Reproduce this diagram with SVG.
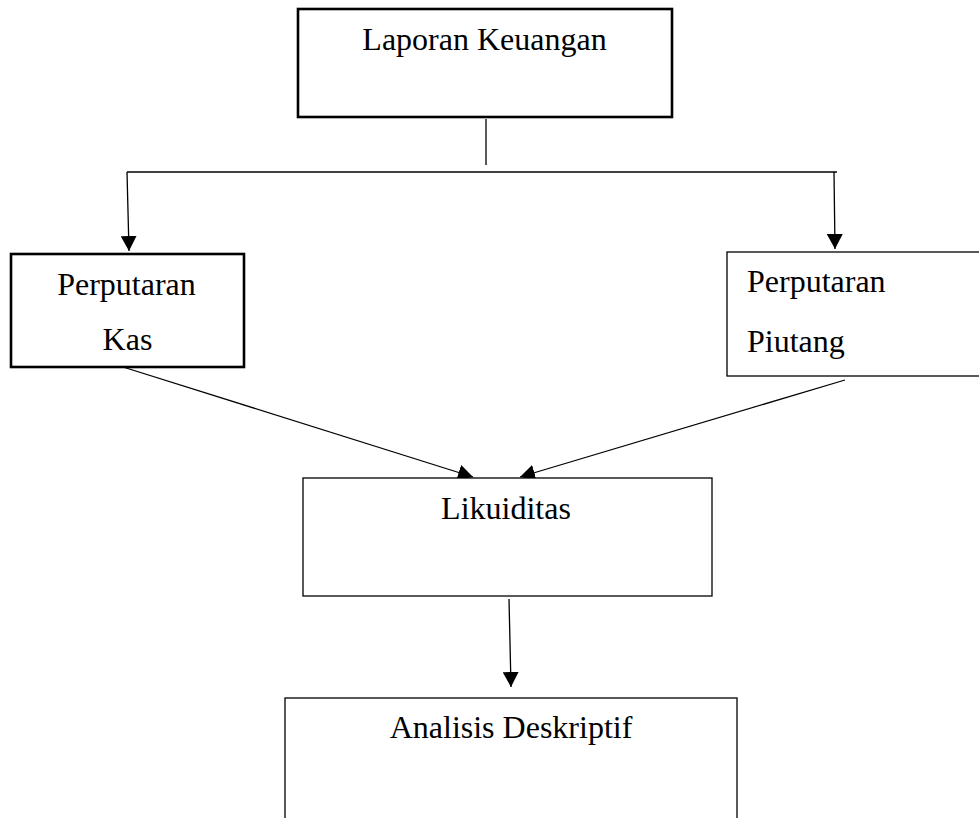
<svg xmlns="http://www.w3.org/2000/svg" width="979" height="818" viewBox="0 0 979 818">
<style>
.box{fill:#fff;stroke:#000;stroke-width:1.3}
.thick{stroke-width:2.6}
.lbl{font-family:"Liberation Serif","Times New Roman",serif;font-size:32px;fill:#000}
.c{text-anchor:middle}
.ln{stroke:#000;stroke-width:1.3;fill:none}
</style>
<defs>
<marker id="ah" markerUnits="userSpaceOnUse" markerWidth="16" markerHeight="16" viewBox="0 0 16 16" refX="15" refY="8" orient="auto">
<path d="M0,0 L15,8 L0,16 z" fill="#000"/>
</marker>
</defs>
<rect width="979" height="818" fill="#fff"/>
<g id="connectors">
<line class="ln" x1="486" y1="119" x2="486" y2="165"/>
<line class="ln" x1="127" y1="172" x2="837" y2="172"/>
<line class="ln" x1="127" y1="172" x2="129" y2="251" marker-end="url(#ah)"/>
<line class="ln" x1="834" y1="172" x2="835" y2="249" marker-end="url(#ah)"/>
<line class="ln" x1="123" y1="367" x2="473" y2="477" marker-end="url(#ah)"/>
<line class="ln" x1="845" y1="380" x2="520" y2="477" marker-end="url(#ah)"/>
<line class="ln" x1="509" y1="599" x2="511" y2="687" marker-end="url(#ah)"/>
</g>
<g id="laporan">
<rect class="box thick" x="298" y="9" width="374" height="108"/>
<text class="lbl c" x="484.5" y="50">Laporan Keuangan</text>
</g>
<g id="kas">
<rect class="box thick" x="11" y="254" width="233" height="113"/>
<text class="lbl c" x="126.5" y="295">Perputaran</text>
<text class="lbl c" x="127.5" y="350">Kas</text>
</g>
<g id="piutang">
<rect class="box" x="727" y="252" width="260" height="124"/>
<text class="lbl" x="747" y="292">Perputaran</text>
<text class="lbl" x="747" y="352">Piutang</text>
</g>
<g id="likuiditas">
<rect class="box" x="303" y="478" width="409" height="118"/>
<text class="lbl c" x="506" y="519">Likuiditas</text>
</g>
<g id="analisis">
<rect class="box" x="285" y="698" width="452" height="140"/>
<text class="lbl c" x="511" y="738">Analisis Deskriptif</text>
</g>
</svg>
